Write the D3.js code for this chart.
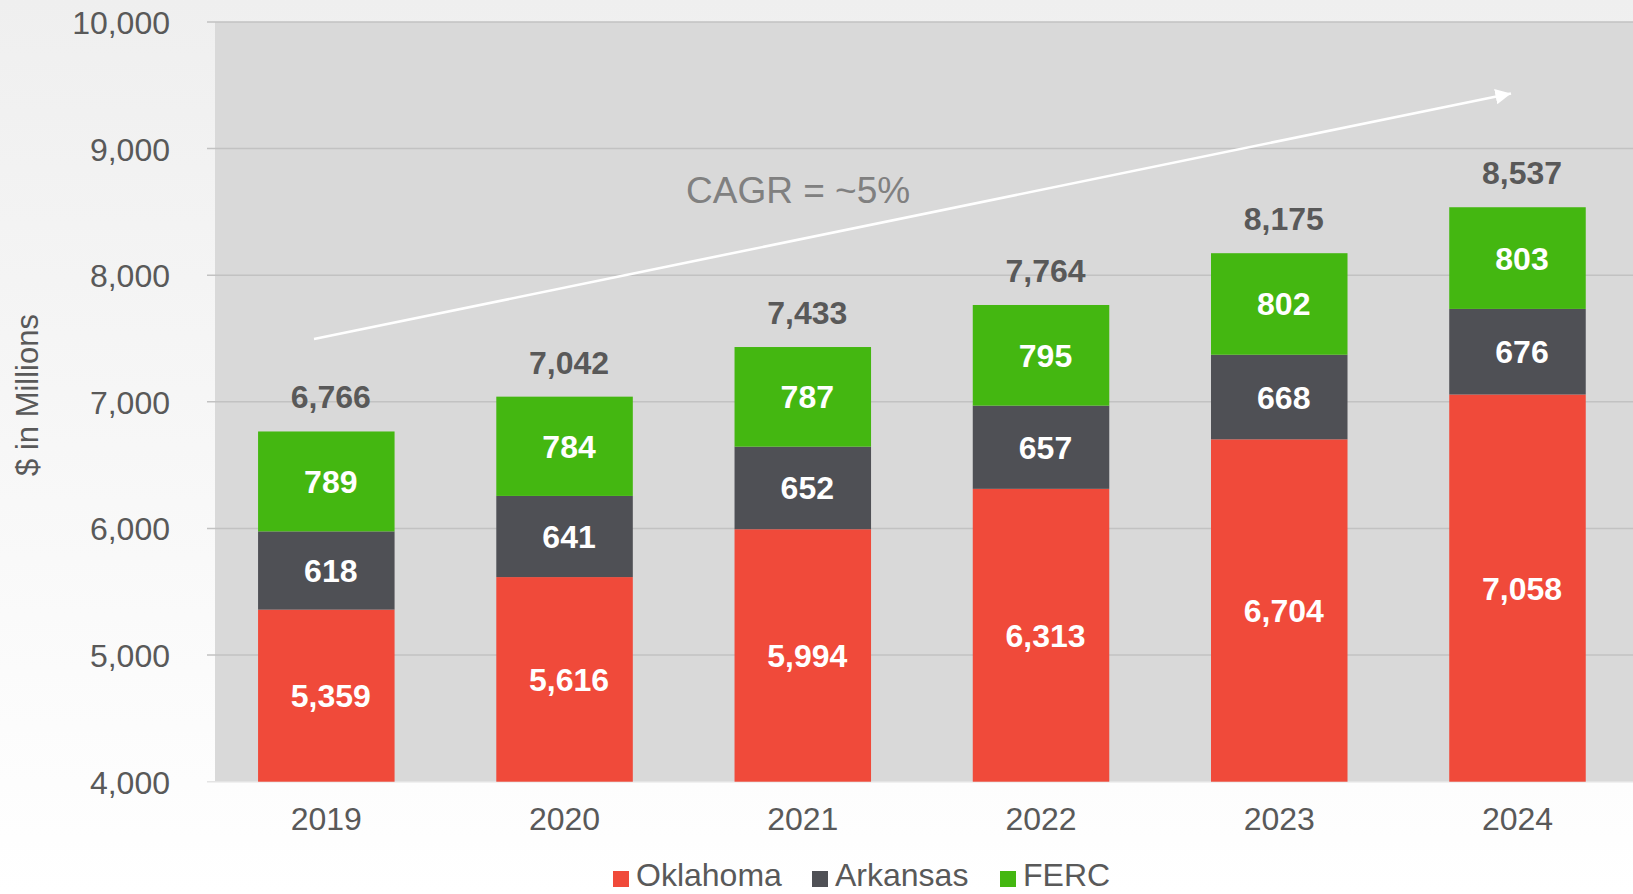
<!DOCTYPE html>
<html>
<head>
<meta charset="utf-8">
<script src="https://cdn.jsdelivr.net/npm/d3@7/dist/d3.min.js"></script>
<style>
  html, body { margin: 0; padding: 0; background: #fff; }
  svg { display: block; font-family: "Liberation Sans", Arial, sans-serif; }
</style>
</head>
<body>
<svg id="chart" width="1633" height="894"></svg>
<script>
const years = ["2019", "2020", "2021", "2022", "2023", "2024"];
const oklahoma = [5359, 5616, 5994, 6313, 6704, 7058];
const arkansas = [618, 641, 652, 657, 668, 676];
const ferc = [789, 784, 787, 795, 802, 803];
const totals = [6766, 7042, 7433, 7764, 8175, 8537];
const seriesNames = ["Oklahoma", "Arkansas", "FERC"];
const seriesColors = ["#f04a3a", "#4f5055", "#44b711"];
const yTicks = [4000, 5000, 6000, 7000, 8000, 9000, 10000];
const cagrLabel = "CAGR = ~5%";
const yTitle = "$ in Millions";

const svg = d3.select("#chart");
const W = 1633, H = 894;

// background gradient
const defs = svg.append("defs");
const grad = defs.append("linearGradient").attr("id", "bg").attr("x1", 0).attr("y1", 0).attr("x2", 0).attr("y2", 1);
grad.append("stop").attr("offset", "0%").attr("stop-color", "#efefef");
grad.append("stop").attr("offset", "100%").attr("stop-color", "#ffffff");
svg.append("rect").attr("width", W).attr("height", H).attr("fill", "url(#bg)");

const y = d3.scaleLinear().domain([4000, 10000]).range([781.7, 22]);
const x = d3.scaleBand().domain(years).range([207.2, 1636.6]).paddingInner(0.427).paddingOuter(0.2135);

// plot background
svg.append("rect").attr("x", 215).attr("y", y(10000)).attr("width", W - 215).attr("height", y(4000) - y(10000)).attr("fill", "#d9d9d9");

// gridlines
const yAxis = d3.axisLeft(y).tickValues(yTicks).tickSize(0).tickFormat(d3.format(","));
svg.append("g").selectAll("line.grid").data(yTicks).join("line")
  .attr("x1", 207).attr("x2", W)
  .attr("y1", d => y(d)).attr("y2", d => y(d))
  .attr("stroke", d => d === 4000 ? "#e4e4e4" : "#c2c2c2")
  .attr("stroke-width", 1.5);

const gy = svg.append("g").attr("transform", "translate(170,0)").call(yAxis);
gy.select(".domain").remove();
gy.selectAll("text").attr("font-size", 32).attr("fill", "#595959")
  .attr("font-family", "Liberation Sans, Arial, sans-serif").attr("x", 0).attr("dy", "0.36em");

// stacked data
const rows = years.map((yr, i) => ({ year: yr, Oklahoma: oklahoma[i], Arkansas: arkansas[i], FERC: ferc[i] }));
const stacked = d3.stack().keys(seriesNames)(rows);

const clipLo = 4000;
const labelShift = 4.5;
stacked.forEach((layer, li) => {
  const g = svg.append("g");
  g.selectAll("rect").data(layer).join("rect")
    .attr("x", d => x(d.data.year))
    .attr("width", x.bandwidth())
    .attr("y", d => y(d[1]))
    .attr("height", d => y(Math.max(d[0], clipLo)) - y(d[1]))
    .attr("fill", seriesColors[li]);
  g.selectAll("text").data(layer).join("text")
    .attr("x", d => x(d.data.year) + x.bandwidth() / 2 + labelShift)
    .attr("y", d => (y(Math.max(d[0], clipLo)) + y(d[1])) / 2)
    .attr("dy", "0.36em")
    .attr("text-anchor", "middle")
    .attr("font-size", 32).attr("font-weight", "bold").attr("fill", "#ffffff")
    .text(d => d3.format(",")(d[1] - d[0]));
});

// totals
svg.append("g").selectAll("text").data(totals).join("text")
  .attr("x", (d, i) => x(years[i]) + x.bandwidth() / 2 + labelShift)
  .attr("y", d => y(d) - 23)
  .attr("text-anchor", "middle")
  .attr("font-size", 32).attr("font-weight", "bold").attr("fill", "#595959")
  .text(d => d3.format(",")(d));

// x axis labels
const xAxis = d3.axisBottom(x).tickSize(0);
const gx = svg.append("g").attr("transform", `translate(0,${y(4000)})`).call(xAxis);
gx.select(".domain").remove();
gx.selectAll("text").attr("font-size", 32).attr("fill", "#595959")
  .attr("font-family", "Liberation Sans, Arial, sans-serif").attr("y", 37).attr("dy", "0.36em");

// y title
svg.append("text")
  .attr("transform", "translate(38,395) rotate(-90)")
  .attr("text-anchor", "middle")
  .attr("font-size", 31).attr("fill", "#595959")
  .text(yTitle);

// CAGR arrow
defs.append("marker").attr("id", "arrow").attr("viewBox", "0 0 10 10")
  .attr("refX", 10).attr("refY", 5).attr("markerWidth", 6).attr("markerHeight", 6)
  .attr("markerUnits", "strokeWidth").attr("orient", "auto")
  .append("path").attr("d", "M0,0 L10,5 L0,10 Z").attr("fill", "#ffffff");
svg.append("line")
  .attr("x1", 314).attr("y1", 339).attr("x2", 1511).attr("y2", 93.5)
  .attr("stroke", "#ffffff").attr("stroke-width", 2.6)
  .attr("marker-end", "url(#arrow)");

svg.append("text")
  .attr("x", 686).attr("y", 203)
  .attr("font-size", 37).attr("fill", "#808080")
  .text(cagrLabel);

// legend
const legendX = [613, 812, 1000];
const lg = svg.append("g");
seriesNames.forEach((name, i) => {
  lg.append("rect").attr("x", legendX[i]).attr("y", 871).attr("width", 16).attr("height", 16).attr("fill", seriesColors[i]);
  lg.append("text").attr("x", legendX[i] + 23).attr("y", 886)
    .attr("font-size", 32).attr("fill", "#595959").text(name);
});
</script>
</body>
</html>
